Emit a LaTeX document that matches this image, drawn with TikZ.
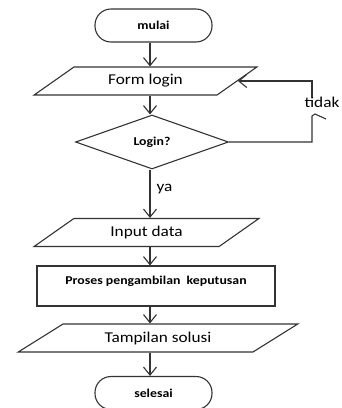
\documentclass[tikz,border=0pt]{standalone}
\usepackage{fontspec}
\setmainfont[FakeStretch=1.15]{Carlito}
\usetikzlibrary{shapes.geometric,arrows.meta}
\tikzset{
  terminal/.style={
    draw=black!80,
    rounded corners=16pt,
    minimum width=117pt,
    minimum height=33pt,
    inner sep=0pt,
    font=\fontsize{12}{14}\selectfont\bfseries,
  },
  io box/.style 2 args={
    draw=black!80,
    trapezium,
    trapezium stretches=true,
    trapezium left angle=#1,
    trapezium right angle=#2,
    minimum height=28pt,
    inner sep=0pt,
    font=\fontsize{15}{18}\selectfont,
  },
  decision/.style={
    draw=black!80,
    diamond,
    minimum width=153pt,
    minimum height=54pt,
    inner sep=0pt,
    font=\fontsize{12}{14}\selectfont\bfseries,
  },
  process/.style={
    draw=black!80,
    minimum width=238pt,
    text height=18pt,
    text depth=22pt,
    inner sep=0pt,
    font=\fontsize{12}{14}\selectfont\bfseries,
  },
  branch text/.style={
    inner sep=0pt,
    font=\fontsize{15}{18}\selectfont,
  },
  flow/.style={
    draw=black!80,
    -{Straight Barb[length=8pt,width=13pt]},
  },
}

\begin{document}
\begin{tikzpicture}[x=1pt, y=1pt, line width=1.1pt]
        \useasboundingbox (0,0) rectangle (341,-408);
        \coordinate (spine) at (150,0);

        \node [terminal] (mulai) at (153.5,-25.5) {mulai};
        \node [io box={32}{148}, minimum width=223pt] (form) at (145.5,-81) {Form login};
        \node [decision] (login) at (152,-142) {Login?};
        \node [io box={33}{147}, minimum width=225pt] (input) at (146.5,-232.5) {Input data};
        \node [process] (proses) at (156,-286) {Proses pengambilan\ \ keputusan};
        \node [io box={27}{153}, minimum width=280pt] (tampil) at (158,-338) {Tampilan solusi};
        \node [terminal] (selesai) at (153.5,-393) {selesai};

        \node [branch text] (ya) at (164.5,-189) {ya};
        \node [branch text] (tidak) at (322,-102) {tidak};

        \draw [flow] (mulai.south -| spine) -- (form.north -| spine);
        \draw [flow] (form.south -| spine) -- (login.north -| spine);
        \draw [flow] (login.south -| spine) -- (input.north -| spine);
        \draw [flow] (input.south -| spine) -- (proses.north -| spine);
        \draw [flow] (proses.south -| spine) -- (tampil.north -| spine);
        \draw [flow] (tampil.south -| spine) -- (selesai.north -| spine);

        % loop back when login fails
        \coordinate (loop top) at (312,-97);
        \coordinate (loop bot) at (312,-116);
        \draw [draw=black!80] (login.east) -| (loop bot) -- ++(3,2) -- ++(11,-5);
        \draw [flow] (loop top) |- (form);
    \end{tikzpicture}
\end{document}
